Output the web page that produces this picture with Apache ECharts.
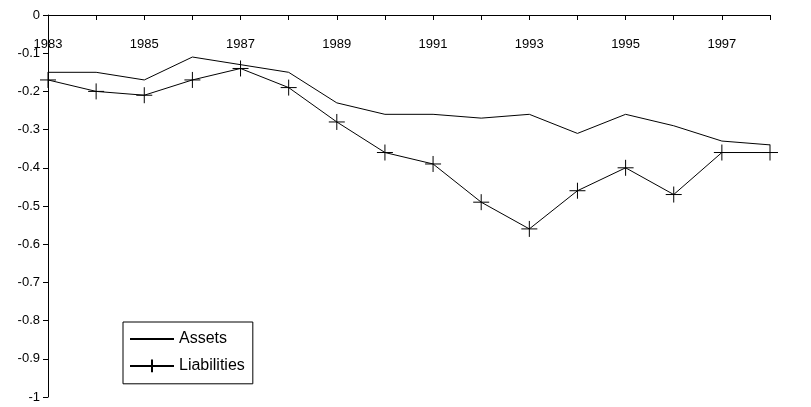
<!DOCTYPE html>
<html><head><meta charset="utf-8">
<script src="https://cdn.jsdelivr.net/npm/echarts@6/dist/echarts.min.js"></script>
<style>html,body{margin:0;background:#fff}#c{width:811px;height:407px}</style>
</head><body><div id="c"></div>
<script>
const years = ['1983','1984','1985','1986','1987','1988','1989','1990','1991','1992','1993','1994','1995','1996','1997','1998'];
const assets = [-0.15,-0.15,-0.17,-0.11,-0.13,-0.15,-0.23,-0.26,-0.26,-0.27,-0.26,-0.31,-0.26,-0.29,-0.33,-0.34];
const liabilities = [-0.17,-0.20,-0.21,-0.17,-0.14,-0.19,-0.28,-0.36,-0.39,-0.49,-0.56,-0.46,-0.40,-0.47,-0.36,-0.36];

const font = {fontFamily: 'Liberation Sans, Arial', fontSize: 13, color: '#000'};
const chart = echarts.init(document.getElementById('c'));
chart.setOption({
    animation: false,
    grid: {left: 48, right: 41, top: 15, bottom: 10},
    legend: {
        left: 123, top: 322, orient: 'vertical', itemGap: 10,
        borderColor: '#000', borderWidth: 1, padding: [9, 8, 9, 6],
        itemWidth: 44, itemHeight: 16,
        textStyle: Object.assign({}, font, {fontSize: 16}),
        data: [{name: 'Assets', itemStyle: {opacity: 0}}, 'Liabilities']
    },
    xAxis: {
        type: 'category', data: years, boundaryGap: false, position: 'top',
        axisLine: {onZero: false, lineStyle: {color: '#000'}},
        axisTick: {inside: true, interval: 0, lineStyle: {color: '#000'}},
        axisLabel: Object.assign({}, font, {interval: 1, inside: true, margin: 23, verticalAlign: 'top'})
    },
    yAxis: {
        type: 'value', min: -1, max: 0, interval: 0.1,
        splitLine: {show: false},
        axisLine: {show: true, lineStyle: {color: '#000'}},
        axisTick: {show: true, lineStyle: {color: '#000'}},
        axisLabel: Object.assign({}, font, {formatter: v => String(Math.round(v * 10) / 10)})
    },
    series: [
        {name: 'Assets', type: 'line', data: assets, symbol: 'none',
         lineStyle: {color: '#000', width: 1}, itemStyle: {color: '#000'}},
        {name: 'Liabilities', type: 'line', data: liabilities,
         symbol: 'path://M0,-1L0,1M-1,0L1,0', symbolSize: 16,
         lineStyle: {color: '#000', width: 1},
         itemStyle: {color: 'none', borderColor: '#000', borderWidth: 1}}
    ]
});
</script></body></html>
